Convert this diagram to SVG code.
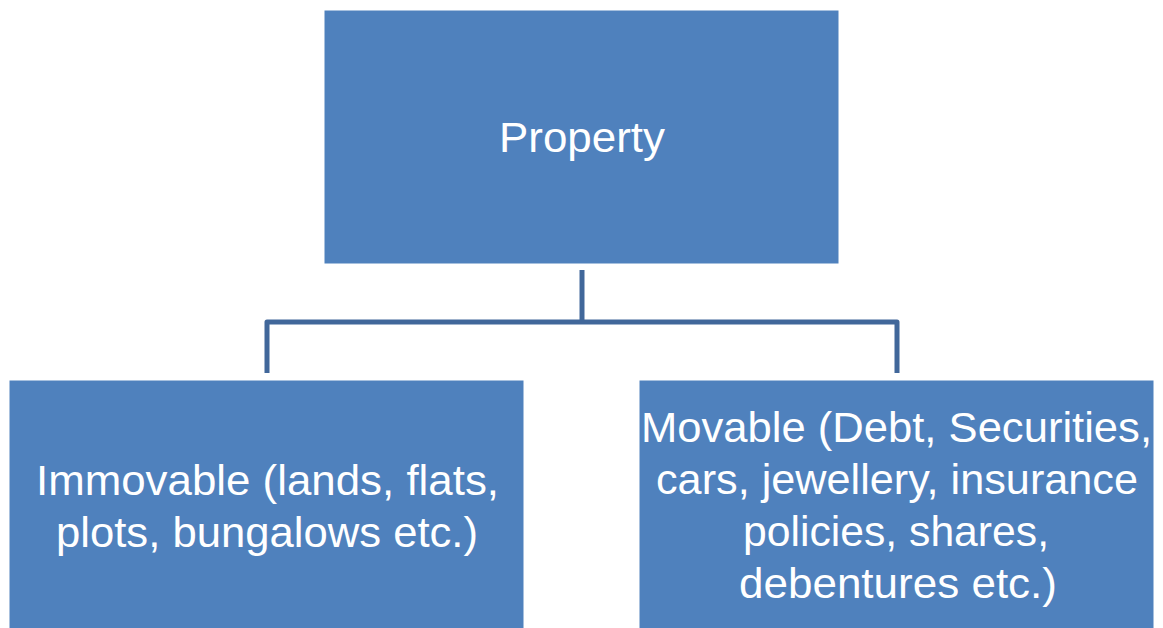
<svg xmlns="http://www.w3.org/2000/svg" width="1163" height="628" viewBox="0 0 1163 628">
<style>
.box{fill:#4F81BD;stroke:#ffffff;stroke-width:1}
.lbl{font-family:"Liberation Sans",Arial,sans-serif;font-size:43px;fill:#ffffff;text-anchor:middle}
.conn{fill:none;stroke:#41679A;stroke-width:5;stroke-linejoin:round}
</style>
<rect x="0" y="0" width="1163" height="628" fill="#ffffff"/>
<g id="connectors">
<path class="conn" d="M582,270 V322"/>
<path class="conn" d="M267,373 V322 H897 V373"/>
</g>
<g id="property">
<rect class="box" x="324" y="10" width="515" height="254"/>
<text class="lbl" x="582" y="152" textLength="166" lengthAdjust="spacingAndGlyphs">Property</text>
</g>
<g id="immovable">
<rect class="box" x="9" y="380" width="515" height="260"/>
<text class="lbl" x="267.5" y="495" textLength="463" lengthAdjust="spacingAndGlyphs">Immovable (lands, flats,</text>
<text class="lbl" x="267" y="547" textLength="422" lengthAdjust="spacingAndGlyphs">plots, bungalows etc.)</text>
</g>
<g id="movable">
<rect class="box" x="639" y="380" width="515" height="260"/>
<text class="lbl" x="896.5" y="442" textLength="511" lengthAdjust="spacingAndGlyphs">Movable (Debt, Securities,</text>
<text class="lbl" x="897" y="494" textLength="482" lengthAdjust="spacingAndGlyphs">cars, jewellery, insurance</text>
<text class="lbl" x="896" y="546" textLength="306" lengthAdjust="spacingAndGlyphs">policies, shares,</text>
<text class="lbl" x="898" y="598" textLength="318" lengthAdjust="spacingAndGlyphs">debentures etc.)</text>
</g>
</svg>
